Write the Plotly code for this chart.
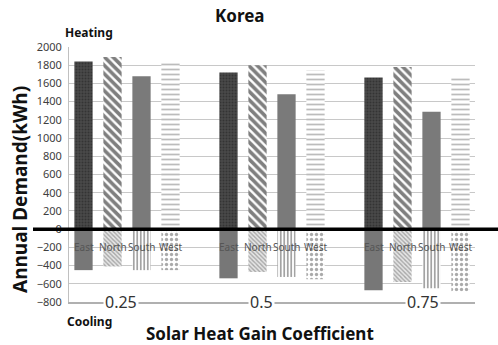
import plotly.graph_objects as go

# Solar heat gain coefficient groups and window orientations
shgc_groups = ["0.25", "0.5", "0.75"]
directions = ["East", "North", "South", "West"]

# Annual heating demand (kWh), one value per SHGC group
heating_east = [1840, 1720, 1665]
heating_north = [1890, 1800, 1780]
heating_south = [1680, 1480, 1290]
heating_west = [1830, 1745, 1680]

# Annual cooling demand (kWh, negative), one value per SHGC group
cooling_east = [-450, -540, -670]
cooling_north = [-410, -470, -580]
cooling_south = [-450, -525, -650]
cooling_west = [-450, -550, -685]

y_ticks = list(range(-800, 2001, 200))

heating = [heating_east, heating_north, heating_south, heating_west]
cooling = [cooling_east, cooling_north, cooling_south, cooling_west]

heat_styles = [
    dict(color="#3a3a3a", pattern=dict(shape=".", fgcolor="#1e1e1e", bgcolor="#4a4a4a", size=3, solidity=0.4)),
    dict(color="#ffffff", pattern=dict(shape="\\", fgcolor="#000000", bgcolor="#ffffff", size=6, solidity=0.6)),
    dict(color="#7a7a7a"),
    dict(color="#ffffff", pattern=dict(shape="-", fgcolor="#7a7a7a", bgcolor="#ffffff", size=5, solidity=0.35)),
]
cool_styles = [
    dict(color="#777777"),
    dict(color="#dddddd", pattern=dict(shape="\\", fgcolor="#666666", bgcolor="#e6e6e6", size=3, solidity=0.45)),
    dict(color="#ffffff", pattern=dict(shape="|", fgcolor="#333333", bgcolor="#ffffff", size=3.5, solidity=0.45)),
    dict(color="#ffffff", pattern=dict(shape=".", fgcolor="#555555", bgcolor="#ffffff", size=5, solidity=0.35)),
]

# each group occupies 4 bar slots followed by one empty slot
def slot(g, d):
    return g * 5 + d

fig = go.Figure()
for d, name in enumerate(directions):
    xs = [slot(g, d) for g in range(len(shgc_groups))]
    fig.add_trace(go.Bar(x=xs, y=heating[d], width=0.63, name=name + " heating",
                         marker=dict(line=dict(width=0), **heat_styles[d]), showlegend=False))
    fig.add_trace(go.Bar(x=xs, y=cooling[d], width=0.63, name=name + " cooling",
                         marker=dict(line=dict(width=0), **cool_styles[d]), showlegend=False))

annotations = []
# direction labels under the zero line
for g in range(len(shgc_groups)):
    for d, name in enumerate(directions):
        annotations.append(dict(x=slot(g, d), y=-200, xref="x", yref="y", text=name,
                                showarrow=False, font=dict(size=10, color="#555555")))
# SHGC group labels on the bottom axis
group_label_x = [1.3, 6.15, 11.7]
for g, lab in enumerate(shgc_groups):
    annotations.append(dict(x=group_label_x[g], y=-800, xref="x", yref="y", text=lab,
                            showarrow=False, bgcolor="#ffffff", borderpad=1,
                            font=dict(size=16, color="#333333")))

# free text placed by pixel position, converted to paper coordinates below
annotations += [
    dict(x=240, y=15, text="<b>Korea</b>", font=dict(size=17, color="#111111")),
    dict(x=89, y=33, text="<b>Heating</b>", font=dict(size=12, color="#111111")),
    dict(x=89, y=321, text="<b>Cooling</b>", font=dict(size=12, color="#111111")),
    dict(x=260, y=333, text="<b>Solar Heat Gain Coefficient</b>", font=dict(size=17, color="#111111")),
    dict(x=20, y=190, text="<b>Annual Demand(kWh)</b>", textangle=-90,
         font=dict(size=19, color="#111111")),
]
L, R, T, B, W, H = 69, 23, 47, 43, 498, 345
pw, ph = W - L - R, H - T - B
for a in annotations:
    a.setdefault("showarrow", False)
    a["xanchor"], a["yanchor"] = "center", "middle"
    if a.get("xref") is None:
        a["xref"], a["yref"] = "paper", "paper"
        a["x"] = (a["x"] - L) / pw
        a["y"] = (H - B - a["y"]) / ph

fig.update_layout(
    width=W, height=H,
    margin=dict(l=L, r=R, t=T, b=B),
    paper_bgcolor="#ffffff", plot_bgcolor="#ffffff",
    barmode="overlay",
    font=dict(family="Noto Sans", color="#404040"),
    annotations=annotations,
    shapes=[
        dict(type="line", xref="paper", yref="y", x0=(33 - L) / pw, x1=(W - L) / pw + 0.01,
             y0=0, y1=0, line=dict(color="#000000", width=3.5), layer="above"),
    ],
    xaxis=dict(range=[-0.5, 13.5], showticklabels=False, showgrid=False, zeroline=False,
               showline=True, linecolor="#b0b0b0", linewidth=2, ticks=""),
    yaxis=dict(range=[-800, 2000], tickvals=y_ticks, showgrid=True, gridcolor="#c8c8c8",
               gridwidth=1, zeroline=False, showline=True, linecolor="#c0c0c0", linewidth=1,
               tickfont=dict(size=11, color="#404040"), ticks="", ticklabelstandoff=4),
)

fig.write_html("out.html")
